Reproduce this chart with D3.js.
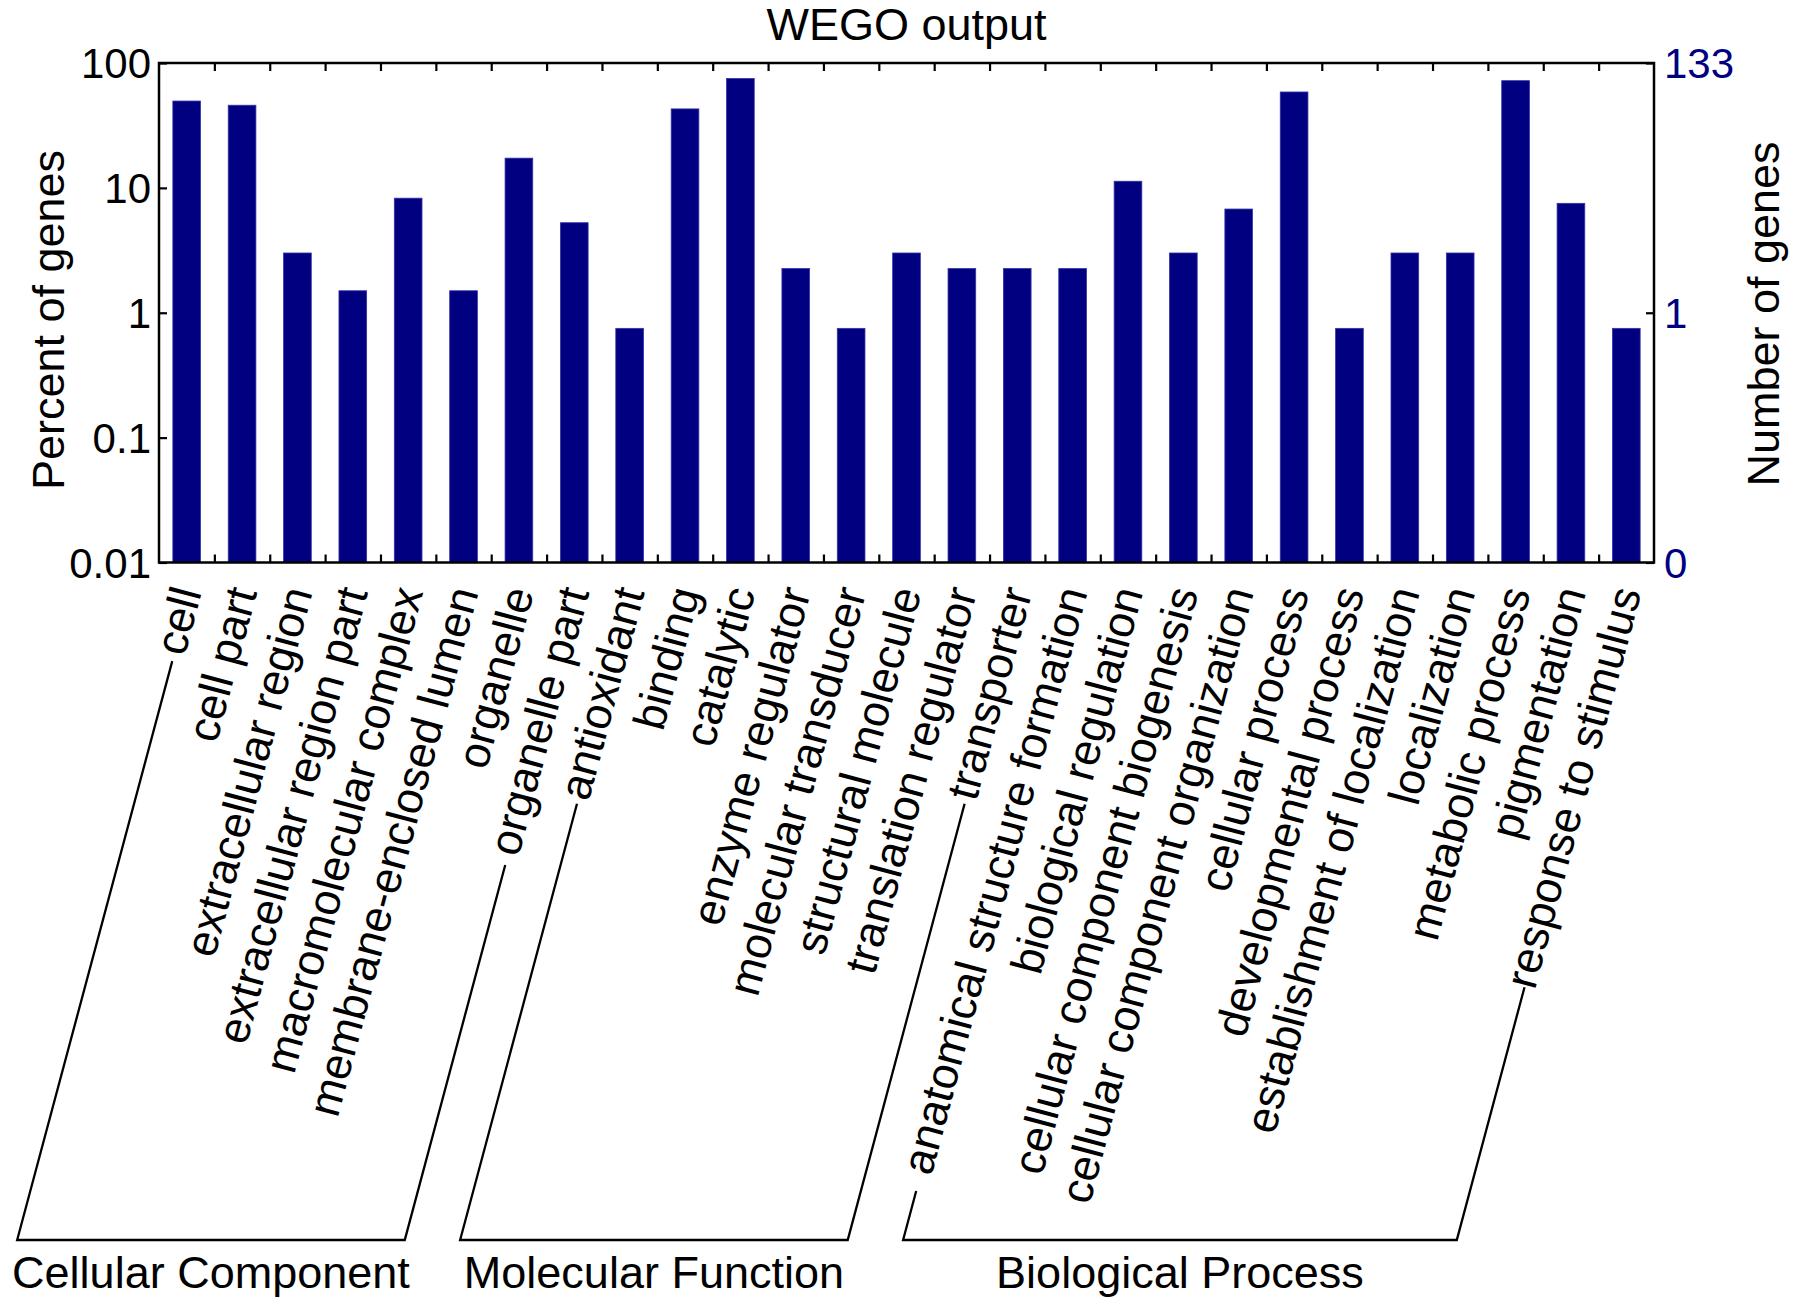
<!DOCTYPE html>
<html>
<head>
<meta charset="utf-8">
<script src="https://cdn.jsdelivr.net/npm/d3@7"></script>
<style>
  html, body { margin: 0; padding: 0; background: #fff; }
  svg { display: block; }
  text { font-family: "Liberation Sans", Arial, Helvetica, sans-serif; }
</style>
</head>
<body>
<svg id="chart" width="1800" height="1310"></svg>
<script>
// === Data ===
const categories = [
    'cell', 'cell part', 'extracellular region', 'extracellular region part',
    'macromolecular complex', 'membrane-enclosed lumen', 'organelle', 'organelle part',
    'antioxidant', 'binding', 'catalytic', 'enzyme regulator', 'molecular transducer',
    'structural molecule', 'translation regulator', 'transporter',
    'anatomical structure formation', 'biological regulation', 'cellular component biogenesis',
    'cellular component organization', 'cellular process', 'developmental process',
    'establishment of localization', 'localization', 'metabolic process', 'pigmentation',
    'response to stimulus'
];

// percent of genes
const percents = [
    49.6, 45.9, 3.01, 1.5, 8.27, 1.5, 17.3, 5.26,
    0.75, 42.9, 75.2, 2.26, 0.75, 3.01, 2.26, 2.26,
    2.26, 11.3, 3.01, 6.77, 58.6, 0.75, 3.01, 3.01, 72.2, 7.52, 0.75
];

const groupNames = ['Cellular Component', 'Molecular Function', 'Biological Process'];
const groupSizes = [8, 8, 11];

const leftTicks = [0.01, 0.1, 1, 10, 100];
const leftTickLabels = ['0.01', '0.1', '1', '10', '100'];
const rightTicks = [0.01, 1, 100];
const rightTickLabels = ['0', '1', '133'];

// === Layout ===
const plot = { left: 159, right: 1654, top: 63, bottom: 562.5 };
const barColor = '#000080';
const labelAngle = 75;
const bracketY = 1240;

const svg = d3.select('#chart');

const x = d3.scaleBand()
    .domain(categories)
    .range([plot.left, plot.right])
    .paddingInner(0.5)
    .paddingOuter(0.25);

const y = d3.scaleLog()
    .domain([0.01, 100])
    .range([plot.bottom, plot.top]);

const slot = d3.scaleLinear()
    .domain([0, categories.length])
    .range([plot.left, plot.right]);

// === Bars ===
svg.append('g')
    .selectAll('rect')
    .data(categories)
    .enter()
    .append('rect')
    .attr('x', d => x(d))
    .attr('width', x.bandwidth())
    .attr('y', (d, i) => y(percents[i]))
    .attr('height', (d, i) => plot.bottom - y(percents[i]))
    .attr('fill', barColor)
    .attr('stroke', '#3434a8')
    .attr('stroke-width', 0.8);

// === Axes ===
function styleAxis(g) {
    g.select('.domain').remove();
    g.selectAll('line').attr('stroke', '#000').attr('stroke-width', 2.2);
}

svg.append('g')
    .attr('transform', `translate(${plot.left},0)`)
    .call(d3.axisLeft(y)
        .tickValues(leftTicks)
        .tickFormat((d, i) => leftTickLabels[i])
        .tickSizeInner(-8)
        .tickSizeOuter(0)
        .tickPadding(8))
    .call(styleAxis)
    .selectAll('text')
    .attr('font-size', 42)
    .attr('fill', '#000')
    .attr('dy', '0.35em');

svg.append('g')
    .attr('transform', `translate(${plot.right},0)`)
    .call(d3.axisRight(y)
        .tickValues(rightTicks)
        .tickFormat((d, i) => rightTickLabels[i])
        .tickSizeInner(-8)
        .tickSizeOuter(0)
        .tickPadding(10))
    .call(styleAxis)
    .selectAll('text')
    .attr('font-size', 42)
    .attr('fill', barColor)
    .attr('dy', '0.35em');

const boundaries = d3.range(1, categories.length);

svg.append('g')
    .attr('transform', `translate(0,${plot.bottom})`)
    .call(d3.axisBottom(slot).tickValues(boundaries).tickFormat('').tickSizeInner(-8).tickSizeOuter(0))
    .call(styleAxis);

svg.append('g')
    .attr('transform', `translate(0,${plot.top})`)
    .call(d3.axisTop(slot).tickValues(boundaries).tickFormat('').tickSizeInner(-8).tickSizeOuter(0))
    .call(styleAxis);

// plot frame
svg.append('rect')
    .attr('x', plot.left)
    .attr('y', plot.top)
    .attr('width', plot.right - plot.left)
    .attr('height', plot.bottom - plot.top)
    .attr('fill', 'none')
    .attr('stroke', '#000')
    .attr('stroke-width', 2.5);

// === Titles ===
svg.append('text')
    .attr('x', (plot.left + plot.right) / 2)
    .attr('y', 40)
    .attr('text-anchor', 'middle')
    .attr('font-size', 45)
    .text('WEGO output');

svg.append('text')
    .attr('transform', 'translate(64,320) rotate(-90)')
    .attr('text-anchor', 'middle')
    .attr('font-size', 45)
    .text('Percent of genes');

svg.append('text')
    .attr('transform', 'translate(1779,314) rotate(-90)')
    .attr('text-anchor', 'middle')
    .attr('font-size', 45)
    .text('Number of genes');

// === Category labels (slanted) ===
const labelY = 588;
const anchorX = d => x(d) + x.bandwidth() / 2;

svg.append('g')
    .selectAll('text')
    .data(categories)
    .enter()
    .append('text')
    .attr('transform', d => `translate(${anchorX(d)},${labelY}) rotate(${-labelAngle})`)
    .attr('text-anchor', 'end')
    .attr('dy', '0.35em')
    .attr('font-size', 45)
    .text(d => d);

// === Group brackets ===
const rad = labelAngle * Math.PI / 180;
const dir = [-Math.cos(rad), Math.sin(rad)];    // along the label, downwards
const side = [Math.sin(rad), Math.cos(rad)];     // perpendicular, to the right

function bracketTop(name) {
    const along = 21.1 * name.length - 10;
    return [
        anchorX(name) + dir[0] * along + side[0] * 5,
        labelY + dir[1] * along + side[1] * 5
    ];
}

function toBase(p) {
    const t = (bracketY - p[1]) / dir[1];
    return [p[0] + dir[0] * t, bracketY];
}

let start = 0;
groupNames.forEach((name, gi) => {
    const first = categories[start];
    const last = categories[start + groupSizes[gi] - 1];
    start += groupSizes[gi];

    const a = bracketTop(first);
    const b = bracketTop(last);
    const a0 = toBase(a);
    const b0 = toBase(b);

    svg.append('path')
        .attr('d', d3.line()([a, a0, b0, b]))
        .attr('fill', 'none')
        .attr('stroke', '#000')
        .attr('stroke-width', 2.3)
        .attr('stroke-linejoin', 'miter');

    svg.append('text')
        .attr('x', (a0[0] + b0[0]) / 2)
        .attr('y', 1288)
        .attr('text-anchor', 'middle')
        .attr('font-size', 45)
        .text(name);
});
</script>
</body>
</html>
